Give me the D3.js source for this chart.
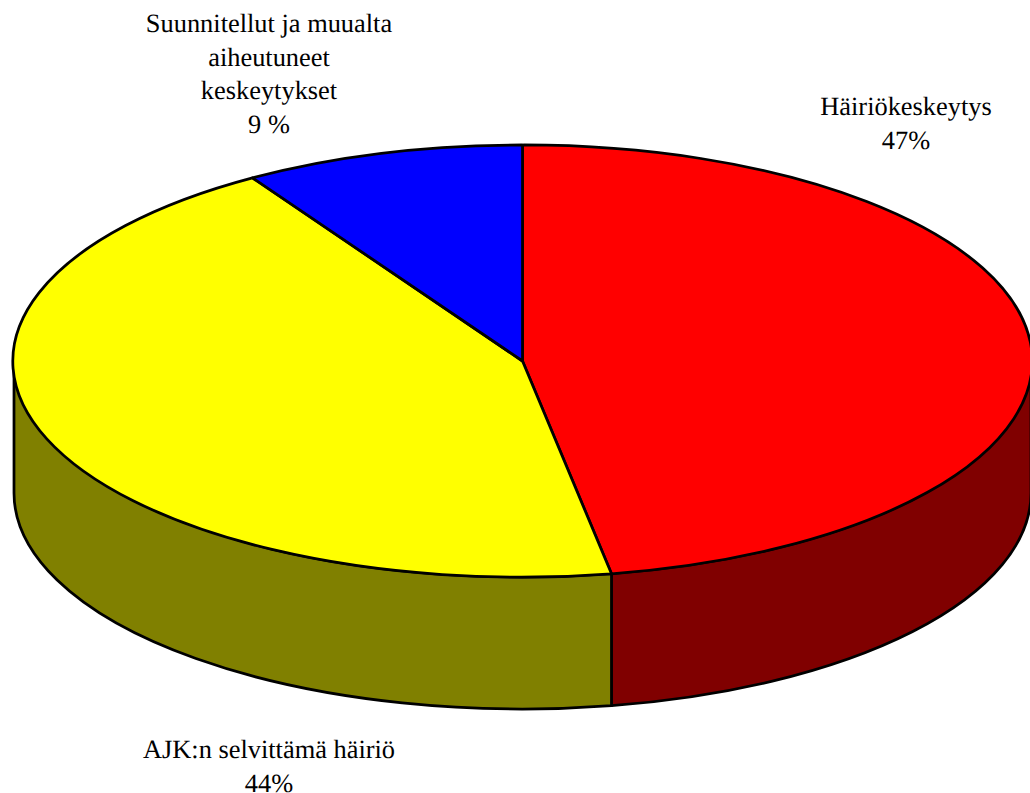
<!DOCTYPE html>
<html>
<head>
<meta charset="utf-8">
<script src="https://cdn.jsdelivr.net/npm/d3@7"></script>
<style>
  html, body { margin: 0; padding: 0; background: #fff; }
  svg { display: block; }
  text { font-family: "Liberation Serif", serif; font-size: 26.4px; fill: #000; text-rendering: geometricPrecision; }
</style>
</head>
<body>
<div id="chart"></div>
<script>
// Data
const categories = ['Häiriökeskeytys', 'AJK:n selvittämä häiriö', 'Suunnitellut ja muualta aiheutuneet keskeytykset'];
const values = [47.2, 43.9, 8.9];
const topColors = ['#ff0000', '#ffff00', '#0000ff'];
const sideColors = ['#800000', '#808000', '#000080'];
const labelLines = [
  ['Häiriökeskeytys', '47%'],
  ['AJK:n selvittämä häiriö', '44%'],
  ['Suunnitellut ja muualta', 'aiheutuneet', 'keskeytykset', '9 %']
];

const width = 1030;
const height = 793;

// Pie geometry: circle squashed into an ellipse
const cx = 522.5, cy = 361;
const rx = 508.5, ry = 216;
const depth = 132;

const svg = d3.select('#chart').append('svg')
  .attr('width', width)
  .attr('height', height);

const pie = d3.pie().sort(null).value(d => d)(values);

// Map pie angle to the ellipse
const px = a => cx + rx * Math.sin(a);
const py = a => cy - ry * Math.cos(a);

// Side walls, only the part on the front half of the ellipse is visible
const frontStart = Math.PI / 2;
const frontEnd = Math.PI * 3 / 2;
const sides = svg.append('g');
pie.forEach((d, i) => {
  const a0 = Math.max(d.startAngle, frontStart);
  const a1 = Math.min(d.endAngle, frontEnd);
  if (a1 <= a0) return;
  const p = 'M' + px(a0) + ',' + py(a0)
    + 'A' + rx + ',' + ry + ' 0 0 1 ' + px(a1) + ',' + py(a1)
    + 'L' + px(a1) + ',' + (py(a1) + depth)
    + 'A' + rx + ',' + ry + ' 0 0 0 ' + px(a0) + ',' + (py(a0) + depth)
    + 'Z';
  sides.append('path')
    .attr('d', p)
    .attr('fill', sideColors[i])
    .attr('stroke', '#000')
    .attr('stroke-width', 2.75)
    .attr('stroke-linejoin', 'round');
});

// Top face
const arc = d3.arc().innerRadius(0).outerRadius(1);
svg.append('g')
  .attr('transform', 'translate(' + cx + ',' + cy + ') scale(' + rx + ',' + ry + ')')
  .selectAll('path')
  .data(pie)
  .join('path')
  .attr('d', arc)
  .attr('fill', (d, i) => topColors[i])
  .attr('stroke', '#000')
  .attr('stroke-width', 2.75)
  .attr('stroke-linejoin', 'round')
  .attr('vector-effect', 'non-scaling-stroke');

// Labels
const labelPos = [[906, 115], [269, 758], [269, 32]];
const lineStep = 33.5;
labelLines.forEach((lines, i) => {
  const t = svg.append('text').attr('text-anchor', 'middle');
  lines.forEach((s, j) => {
    t.append('tspan')
      .attr('x', labelPos[i][0])
      .attr('y', labelPos[i][1] + j * lineStep)
      .text(s);
  });
});
</script>
</body>
</html>
